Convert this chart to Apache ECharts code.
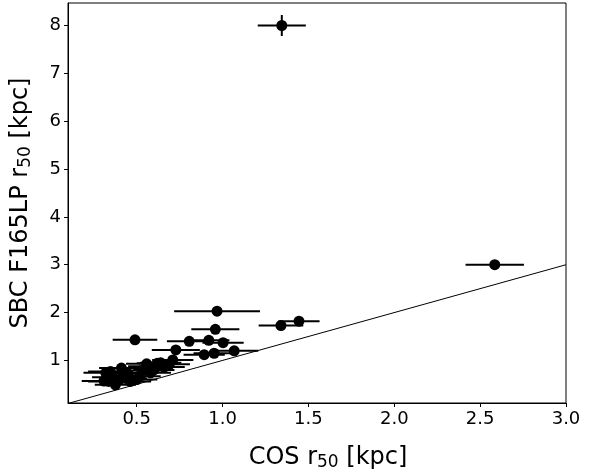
<!DOCTYPE html>
<html>
<head>
<meta charset="utf-8">
<script src="https://cdn.jsdelivr.net/npm/echarts@6/dist/echarts.min.js"></script>
<style>html,body{margin:0;padding:0;background:#fff}#c{width:605px;height:476px}</style>
</head>
<body>
<div id="c"></div>
<script>
// COS r50 [kpc]
var cosR50 = [1.345, 2.585, 0.968, 1.445, 1.340, 0.958, 0.490, 0.806, 0.920, 1.003,
              0.728, 1.068, 0.951, 0.893, 0.710, 0.620, 0.558, 0.640, 0.570, 0.411,
              0.347, 0.320, 0.424, 0.520, 0.580, 0.337, 0.376, 0.464, 0.310, 0.400,
              0.450, 0.530, 0.660, 0.600, 0.360, 0.440, 0.500, 0.690];
// SBC F165LP r50 [kpc]
var sbcR50 = [8.00, 3.00, 2.03, 1.82, 1.73, 1.65, 1.43, 1.40, 1.42, 1.37,
              1.22, 1.20, 1.15, 1.12, 1.01, 0.94, 0.93, 0.95, 0.88, 0.84,
              0.77, 0.74, 0.67, 0.67, 0.74, 0.56, 0.49, 0.56, 0.57, 0.60,
              0.72, 0.79, 0.86, 0.80, 0.65, 0.62, 0.60, 0.92];
var cosErr = [0.14, 0.17, 0.25, 0.12, 0.13, 0.14, 0.13, 0.13, 0.12, 0.12,
              0.14, 0.14, 0.12, 0.12, 0.12, 0.12, 0.12, 0.12, 0.12, 0.13,
              0.13, 0.13, 0.12, 0.12, 0.12, 0.12, 0.12, 0.12, 0.13, 0.12,
              0.12, 0.12, 0.12, 0.12, 0.12, 0.12, 0.12, 0.12];
var sbcErr = [0.22, 0.04, 0.03, 0.03, 0.03, 0.03, 0.03, 0.03, 0.03, 0.03,
              0.03, 0.03, 0.03, 0.03, 0.03, 0.03, 0.03, 0.03, 0.03, 0.03,
              0.03, 0.03, 0.03, 0.03, 0.03, 0.03, 0.03, 0.03, 0.03, 0.03,
              0.03, 0.03, 0.03, 0.03, 0.03, 0.03, 0.03, 0.03];
var oneToOne = [[0.1, 0.1], [3.0, 3.0]];
var xTicks = [0.5, 1.0, 1.5, 2.0, 2.5, 3.0];
var yTicks = [1, 2, 3, 4, 5, 6, 7, 8];

var pts = cosR50.map(function (x, i) { return [x, sbcR50[i]]; });
var errData = cosR50.map(function (x, i) { return [x, sbcR50[i], cosErr[i], sbcErr[i]]; });

var chart = echarts.init(document.getElementById('c'), null, {renderer: 'canvas'});
var font = 'DejaVu Sans';
var richName = {
  a: {fontFamily: font, fontSize: 24, color: '#000'},
  s: {fontFamily: font, fontSize: 17, color: '#000', verticalAlign: 'bottom', padding: [10, 0, 0, 0]}
};
chart.setOption({
  animation: false,
  backgroundColor: '#fff',
  grid: {left: 68, right: 39, top: 3, bottom: 71, show: true, borderColor: '#000', borderWidth: 1, backgroundColor: 'transparent'},
  xAxis: {
    type: 'value', min: 0.1, max: 3.0,
    name: '{a|COS r}{s|50}{a| [kpc]}', nameLocation: 'middle', nameGap: 41,
    nameTextStyle: {rich: richName, padding: [0, 0, 0, 22]},
    axisLine: {show: true, onZero: false, lineStyle: {color: '#000', width: 1}},
    axisTick: {show: true, inside: false, length: 4, customValues: xTicks, lineStyle: {color: '#000'}},
    axisLabel: {customValues: xTicks, margin: 7, fontFamily: font, fontSize: 18, color: '#000', formatter: function (v) { return v.toFixed(1); }},
    splitLine: {show: false}
  },
  yAxis: {
    type: 'value', min: 0.11, max: 8.47,
    name: '{a|SBC F165LP r}{s|50}{a| [kpc]}', nameLocation: 'middle', nameGap: 34, nameRotate: 90,
    nameTextStyle: {rich: richName},
    axisLine: {show: true, onZero: false, lineStyle: {color: '#000', width: 1}},
    axisTick: {show: true, inside: false, length: 4, customValues: yTicks, lineStyle: {color: '#000'}},
    axisLabel: {customValues: yTicks, margin: 7, fontFamily: font, fontSize: 18, color: '#000', formatter: function (v) { return String(Math.round(v)); }},
    splitLine: {show: false}
  },
  series: [
    {
      type: 'line', data: oneToOne, showSymbol: false, symbol: 'none',
      lineStyle: {color: '#000', width: 1}, z: 1, silent: true
    },
    {
      type: 'custom', z: 2, data: errData,
      renderItem: function (params, api) {
        var x = api.value(0), y = api.value(1), ex = api.value(2), ey = api.value(3);
        var l = api.coord([x - ex, y]), r = api.coord([x + ex, y]);
        var b = api.coord([x, y - ey]), t = api.coord([x, y + ey]);
        var st = {stroke: '#000', lineWidth: 2};
        return {type: 'group', children: [
          {type: 'line', shape: {x1: l[0], y1: l[1], x2: r[0], y2: r[1]}, style: st},
          {type: 'line', shape: {x1: b[0], y1: b[1], x2: t[0], y2: t[1]}, style: st}
        ]};
      }
    },
    {
      type: 'scatter', data: pts, symbol: 'circle', symbolSize: 11, z: 3,
      itemStyle: {color: '#000', opacity: 1}
    }
  ]
});
</script>
</body>
</html>
